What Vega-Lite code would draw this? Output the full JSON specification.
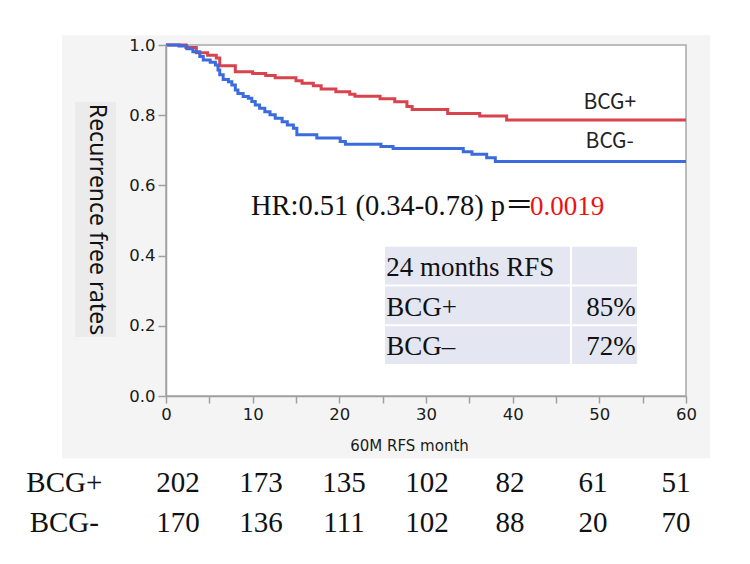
{
  "$schema": "https://vega.github.io/schema/vega-lite/v6.json",
  "width": 520,
  "height": 351,
  "autosize": {"type": "none"},
  "padding": {"left": 166, "top": 45, "right": 64, "bottom": 168},
  "background": "white",
  "config": {"view": {"stroke": null}},
  "datasets": {
    "survival": [
      {"group": "BCG+", "month": 0, "surv": 1.0},
      {"group": "BCG+", "month": 2.3, "surv": 0.993},
      {"group": "BCG+", "month": 3.5, "surv": 0.978},
      {"group": "BCG+", "month": 4.8, "surv": 0.971},
      {"group": "BCG+", "month": 5.8, "surv": 0.963},
      {"group": "BCG+", "month": 6.2, "surv": 0.941},
      {"group": "BCG+", "month": 8.0, "surv": 0.924},
      {"group": "BCG+", "month": 10.0, "surv": 0.919},
      {"group": "BCG+", "month": 11.5, "surv": 0.913},
      {"group": "BCG+", "month": 12.6, "surv": 0.907},
      {"group": "BCG+", "month": 15.0, "surv": 0.898},
      {"group": "BCG+", "month": 15.7, "surv": 0.891},
      {"group": "BCG+", "month": 17.0, "surv": 0.884},
      {"group": "BCG+", "month": 17.9, "surv": 0.875},
      {"group": "BCG+", "month": 19.6, "surv": 0.867},
      {"group": "BCG+", "month": 21.2, "surv": 0.860},
      {"group": "BCG+", "month": 21.8, "surv": 0.854},
      {"group": "BCG+", "month": 24.7, "surv": 0.847},
      {"group": "BCG+", "month": 26.4, "surv": 0.838},
      {"group": "BCG+", "month": 27.8, "surv": 0.825},
      {"group": "BCG+", "month": 28.4, "surv": 0.816},
      {"group": "BCG+", "month": 32.5, "surv": 0.805},
      {"group": "BCG+", "month": 36.2, "surv": 0.798},
      {"group": "BCG+", "month": 39.3, "surv": 0.786},
      {"group": "BCG+", "month": 60, "surv": 0.786},
      {"group": "BCG-", "month": 0, "surv": 1.0},
      {"group": "BCG-", "month": 1.5, "surv": 0.997},
      {"group": "BCG-", "month": 2.4, "surv": 0.989},
      {"group": "BCG-", "month": 3.1, "surv": 0.981},
      {"group": "BCG-", "month": 3.9, "surv": 0.967},
      {"group": "BCG-", "month": 4.3, "surv": 0.957},
      {"group": "BCG-", "month": 5.1, "surv": 0.951},
      {"group": "BCG-", "month": 5.7, "surv": 0.943},
      {"group": "BCG-", "month": 6.0, "surv": 0.929},
      {"group": "BCG-", "month": 6.2, "surv": 0.915},
      {"group": "BCG-", "month": 6.6, "surv": 0.902},
      {"group": "BCG-", "month": 7.2, "surv": 0.895},
      {"group": "BCG-", "month": 7.6, "surv": 0.886},
      {"group": "BCG-", "month": 8.0, "surv": 0.872},
      {"group": "BCG-", "month": 8.3, "surv": 0.862},
      {"group": "BCG-", "month": 8.9, "surv": 0.853},
      {"group": "BCG-", "month": 9.5, "surv": 0.848},
      {"group": "BCG-", "month": 9.9, "surv": 0.839},
      {"group": "BCG-", "month": 10.3, "surv": 0.829},
      {"group": "BCG-", "month": 10.8, "surv": 0.820},
      {"group": "BCG-", "month": 11.4, "surv": 0.810},
      {"group": "BCG-", "month": 12.0, "surv": 0.801},
      {"group": "BCG-", "month": 12.6, "surv": 0.791},
      {"group": "BCG-", "month": 13.4, "surv": 0.781},
      {"group": "BCG-", "month": 14.0, "surv": 0.772},
      {"group": "BCG-", "month": 14.7, "surv": 0.763},
      {"group": "BCG-", "month": 15.1, "surv": 0.744},
      {"group": "BCG-", "month": 17.4, "surv": 0.735},
      {"group": "BCG-", "month": 20.1, "surv": 0.725},
      {"group": "BCG-", "month": 20.7, "surv": 0.717},
      {"group": "BCG-", "month": 24.8, "surv": 0.711},
      {"group": "BCG-", "month": 26.2, "surv": 0.705},
      {"group": "BCG-", "month": 34.3, "surv": 0.696},
      {"group": "BCG-", "month": 35.3, "surv": 0.689},
      {"group": "BCG-", "month": 37.0, "surv": 0.679},
      {"group": "BCG-", "month": 38.0, "surv": 0.668},
      {"group": "BCG-", "month": 60, "surv": 0.668}
    ],
    "rfs24": [
      {"row": "24 months RFS", "rate": ""},
      {"row": "BCG+", "rate": "85%"},
      {"row": "BCG–", "rate": "72%"}
    ],
    "atRisk": [
      {"group": "BCG+", "month": 0, "n": 202},
      {"group": "BCG+", "month": 10, "n": 173},
      {"group": "BCG+", "month": 20, "n": 135},
      {"group": "BCG+", "month": 30, "n": 102},
      {"group": "BCG+", "month": 40, "n": 82},
      {"group": "BCG+", "month": 50, "n": 61},
      {"group": "BCG+", "month": 60, "n": 51},
      {"group": "BCG-", "month": 0, "n": 170},
      {"group": "BCG-", "month": 10, "n": 136},
      {"group": "BCG-", "month": 20, "n": 111},
      {"group": "BCG-", "month": 30, "n": 102},
      {"group": "BCG-", "month": 40, "n": 88},
      {"group": "BCG-", "month": 50, "n": 20},
      {"group": "BCG-", "month": 60, "n": 70}
    ]
  },
  "layer": [
    {
      "layer": [
        {
          "layer": [
            {
              "data": {"values": [{}]},
              "mark": {"type": "rect", "fill": "#f4f4f4"},
              "encoding": {
                "x": {"datum": -12, "type": "quantitative", "scale": {"domain": [0, 60], "nice": false}},
                "x2": {"datum": 62.8},
                "y": {"datum": 1.028, "type": "quantitative", "scale": {"domain": [0, 1], "nice": false}},
                "y2": {"datum": -0.177}
              }
            },
            {
              "data": {"values": [{}]},
              "mark": {"type": "rect", "fill": "#ebebeb"},
              "encoding": {
                "x": {"datum": -10.5, "type": "quantitative"},
                "x2": {"datum": -5.77},
                "y": {"datum": 0.838, "type": "quantitative"},
                "y2": {"datum": 0.168}
              }
            },
            {
              "data": {"values": [{}]},
              "mark": {"type": "rect", "fill": "white", "stroke": "#a8a8a8", "strokeWidth": 1.5},
              "encoding": {
                "x": {"datum": 0, "type": "quantitative"},
                "x2": {"datum": 60},
                "y": {"datum": 0, "type": "quantitative"},
                "y2": {"datum": 1}
              }
            },
            {
              "data": {"name": "survival"},
              "mark": {"type": "line", "interpolate": "step-after", "strokeWidth": 3},
              "encoding": {
                "x": {
                  "field": "month",
                  "type": "quantitative",
                  "scale": {"domain": [0, 60], "nice": false},
                  "axis": {
                    "zindex": 2,
                    "title": "60M RFS month",
                    "values": [0, 5, 10, 15, 20, 25, 30, 35, 40, 45, 50, 55, 60],
                    "labelExpr": "datum.value % 10 == 0 ? datum.label : ''",
                    "tickSize": 7,
                    "labelPadding": 3,
                    "labelFlush": false,
                    "labelFont": "DejaVu Sans",
                    "labelFontSize": 16.5,
                    "labelColor": "#1a1a1a",
                    "domainColor": "#a0a0a0",
                    "domainWidth": 1.5,
                    "tickColor": "#a0a0a0",
                    "tickWidth": 1.5,
                    "grid": false,
                    "titleX": 243,
                    "titleY": 54,
                    "titleAlign": "center",
                    "titleBaseline": "alphabetic",
                    "titleFont": "DejaVu Sans",
                    "titleFontSize": 15,
                    "titleFontWeight": "normal",
                    "titleColor": "#1a1a1a"
                  }
                },
                "y": {
                  "field": "surv",
                  "type": "quantitative",
                  "scale": {"domain": [0, 1], "nice": false},
                  "axis": {
                    "zindex": 2,
                    "title": "Recurrence free rates",
                    "values": [0, 0.1, 0.2, 0.3, 0.4, 0.5, 0.6, 0.7, 0.8, 0.9, 1],
                    "labelExpr": "round(datum.value * 10) % 2 == 0 ? format(datum.value, '.1f') : ''",
                    "tickSize": {"condition": {"test": "round(datum.value * 10) % 2 == 0", "value": 8}, "value": 4},
                    "labelPadding": 3,
                    "labelFont": "DejaVu Sans",
                    "labelFontSize": 16.5,
                    "labelColor": "#1a1a1a",
                    "domainColor": "#a0a0a0",
                    "domainWidth": 1.5,
                    "tickColor": "#a0a0a0",
                    "tickWidth": 1.5,
                    "grid": false,
                    "titleAngle": 90,
                    "titleX": -70,
                    "titleY": 174,
                    "titleAlign": "center",
                    "titleBaseline": "middle",
                    "titleFont": "Noto Sans",
                    "titleFontSize": 23,
                    "titleFontWeight": "normal",
                    "titleColor": "#111111"
                  }
                },
                "color": {
                  "field": "group",
                  "type": "nominal",
                  "scale": {"domain": ["BCG+", "BCG-"], "range": ["#d8434e", "#3b6bdc"]},
                  "legend": null
                }
              }
            },
            {
              "data": {"values": [{"label": "BCG+"}]},
              "mark": {"type": "text", "align": "center", "baseline": "alphabetic", "font": "Noto Sans CJK JP", "fontSize": 21, "color": "#222222"},
              "encoding": {
                "x": {"datum": 51.2, "type": "quantitative"},
                "y": {"datum": 0.818, "type": "quantitative"},
                "text": {"field": "label"}
              }
            },
            {
              "data": {"values": [{"label": "BCG-"}]},
              "mark": {"type": "text", "align": "center", "baseline": "alphabetic", "font": "Noto Sans CJK JP", "fontSize": 21, "color": "#222222"},
              "encoding": {
                "x": {"datum": 51.2, "type": "quantitative"},
                "y": {"datum": 0.707, "type": "quantitative"},
                "text": {"field": "label"}
              }
            },
            {
              "data": {"values": [{"label": "HR:0.51 (0.34-0.78) p＝"}]},
              "mark": {"type": "text", "align": "left", "baseline": "alphabetic", "font": "Liberation Serif, Noto Sans CJK JP", "fontSize": 28.5, "color": "#111111"},
              "encoding": {
                "x": {"datum": 9.8, "type": "quantitative"},
                "y": {"datum": 0.516, "type": "quantitative"},
                "text": {"field": "label"}
              }
            },
            {
              "data": {"values": [{"label": "0.0019"}]},
              "mark": {"type": "text", "align": "left", "baseline": "alphabetic", "font": "Liberation Serif", "fontSize": 27, "color": "#ee1111"},
              "encoding": {
                "x": {"datum": 42.0, "type": "quantitative"},
                "y": {"datum": 0.516, "type": "quantitative"},
                "text": {"field": "label"}
              }
            }
          ]
        },
        {
          "data": {"name": "rfs24"},
          "encoding": {
            "y": {
              "field": "row",
              "type": "nominal",
              "sort": null,
              "scale": {"domain": ["24 months RFS", "BCG+", "BCG–"], "range": [201.7, 319], "paddingInner": 0.05, "paddingOuter": 0},
              "axis": null
            }
          },
          "layer": [
            {
              "mark": {"type": "rect", "fill": "#e4e6f1"},
              "encoding": {"x": {"datum": 25.27, "type": "quantitative"}, "x2": {"datum": 46.6}}
            },
            {
              "mark": {"type": "rect", "fill": "#e4e6f1"},
              "encoding": {"x": {"datum": 46.85, "type": "quantitative"}, "x2": {"datum": 54.35}}
            },
            {
              "mark": {"type": "text", "align": "left", "baseline": "alphabetic", "font": "Liberation Serif", "fontSize": 27, "color": "#111111"},
              "encoding": {
                "x": {"datum": 25.4, "type": "quantitative"},
                "y": {"field": "row", "type": "nominal", "sort": null, "bandPosition": 0.77, "axis": null},
                "text": {"field": "row"}
              }
            },
            {
              "mark": {"type": "text", "align": "right", "baseline": "alphabetic", "font": "Liberation Serif", "fontSize": 27, "color": "#111111"},
              "encoding": {
                "x": {"datum": 54.2, "type": "quantitative"},
                "y": {"field": "row", "type": "nominal", "sort": null, "bandPosition": 0.77, "axis": null},
                "text": {"field": "rate"}
              }
            }
          ]
        }
      ],
      "resolve": {"scale": {"y": "independent"}}
    },
    {
      "data": {"name": "atRisk"},
      "encoding": {
        "y": {
          "field": "group",
          "type": "nominal",
          "scale": {"type": "point", "domain": ["BCG+", "BCG-"], "range": [447, 487], "padding": 0},
          "axis": null
        }
      },
      "layer": [
        {
          "mark": {"type": "text", "align": "center", "baseline": "alphabetic", "font": "Liberation Serif", "fontSize": 29, "color": "#111111"},
          "encoding": {
            "x": {"field": "month", "type": "quantitative", "scale": {"domain": [0, 60], "range": [12, 510]}, "axis": null},
            "text": {"field": "n"}
          }
        },
        {
          "transform": [{"filter": "datum.month == 0"}],
          "mark": {"type": "text", "align": "center", "baseline": "alphabetic", "font": "Liberation Serif", "fontSize": 29, "color": "#111111"},
          "encoding": {
            "x": {"datum": -13.7, "type": "quantitative"},
            "text": {"field": "group"}
          }
        }
      ]
    }
  ],
  "resolve": {"scale": {"x": "independent", "y": "independent"}}
}
